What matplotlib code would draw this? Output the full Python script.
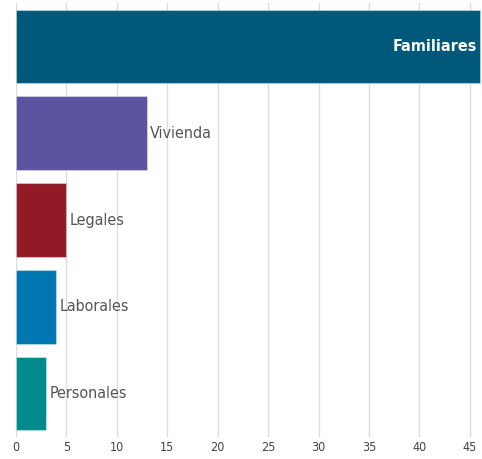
import matplotlib
matplotlib.use("Agg")
import matplotlib.pyplot as plt

categories = ['Familiares', 'Vivienda', 'Legales', 'Laborales', 'Personales']
values = [46, 13, 5, 4, 3]
colors = ['#00587a', '#5b53a0', '#921a27', '#0077b0', '#008a8c']
xticks = [0, 5, 10, 15, 20, 25, 30, 35, 40, 45]

plt.rcParams['font.family'] = ['DejaVu Sans']
plt.rcParams['font.stretch'] = 'condensed'

fig = plt.figure(figsize=(4.82, 4.59), dpi=100)
ax = fig.add_axes([16 / 482, 1 - 437 / 459, 466 / 482, 434 / 459])

ypos = list(range(len(categories)))
ax.barh(ypos, values, height=0.85, color=colors, edgecolor=(1, 1, 1, 0.35), linewidth=0.8, zorder=3)
ax.set_ylim(len(categories) - 0.5, -0.5)
ax.set_xlim(0, 46.2)

# labels: inside the first bar, outside the rest
for i, (cat, v) in enumerate(zip(categories, values)):
    if i == 0:
        ax.text(v - 0.3, i, cat, ha='right', va='center', color='white', fontsize=11.5, fontweight='bold',
                fontstretch='condensed', zorder=4)
    else:
        ax.text(v + 0.3, i, cat, ha='left', va='center', color='#555555', fontsize=11.5,
                fontstretch='condensed', zorder=4)

ax.set_xticks(xticks)
ax.set_xticklabels([str(t) for t in xticks], color='#444444', fontsize=9, fontstretch='condensed')
ax.set_yticks([])
ax.tick_params(axis='x', length=0, pad=3)
ax.grid(axis='x', color='#dddddd', linewidth=1, zorder=0)
for s in ax.spines.values():
    s.set_visible(False)

fig.savefig('out.png', dpi=100)
